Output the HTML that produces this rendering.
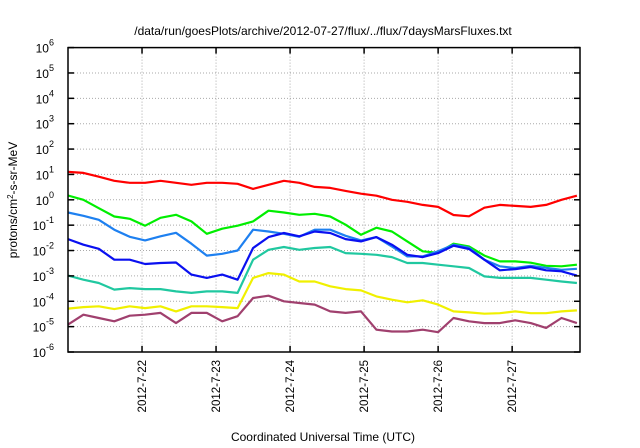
<!DOCTYPE html>
<html><head><meta charset="utf-8"><style>
body{margin:0;background:#fff;}
svg{display:block;font-family:"Liberation Sans",sans-serif;}
</style></head><body>
<svg id="chart" width="640" height="448">
<text x="323" y="35" font-size="12" text-anchor="middle">/data/run/goesPlots/archive/2012-07-27/flux/../flux/7daysMarsFluxes.txt</text>
<text x="323" y="441" font-size="12" text-anchor="middle">Coordinated Universal Time (UTC)</text>
<text transform="translate(17,200) rotate(-90)" font-size="12" text-anchor="middle">protons/cm<tspan dy="-4" font-size="8">2</tspan><tspan dy="4">-s-sr-MeV</tspan></text>
<g id="grid"></g><g id="series"></g><g id="axes"></g>
</svg>
<script>
// data (hours since 2012-07-21 00:00, log10 flux)
const hours = [0,5,10,15,20,25,30,35,40,45,50,55,60,65,70,75,80,85,90,95,100,105,110,115,120,125,130,135,140,145,150,155,160,165];
const dayLabels = ["2012-7-22","2012-7-23","2012-7-24","2012-7-25","2012-7-26","2012-7-27"];
const dayHours = [24,48,72,96,120,144];
const yExponents = [-6,-5,-4,-3,-2,-1,0,1,2,3,4,5,6];
const redLog = [1.10,1.06,0.91,0.75,0.67,0.67,0.75,0.67,0.59,0.67,0.67,0.63,0.43,0.59,0.75,0.67,0.51,0.47,0.35,0.24,0.16,0,-0.08,-0.2,-0.28,-0.6,-0.65,-0.31,-0.2,-0.24,-0.28,-0.2,0,0.16];
const greenLog = [0.17,0.0,-0.33,-0.66,-0.75,-1.02,-0.71,-0.59,-0.85,-1.34,-1.14,-1.02,-0.85,-0.43,-0.5,-0.59,-0.55,-0.66,-0.98,-1.38,-1.1,-1.25,-1.64,-2.03,-2.09,-1.73,-1.84,-2.2,-2.43,-2.43,-2.48,-2.6,-2.62,-2.56];
const lightBlueLog = [-0.5,-0.63,-0.79,-1.18,-1.46,-1.6,-1.44,-1.3,-1.73,-2.2,-2.13,-2.0,-1.18,-1.25,-1.34,-1.46,-1.18,-1.18,-1.42,-1.6,-1.47,-1.84,-2.23,-2.23,-2.03,-1.77,-1.89,-2.36,-2.62,-2.69,-2.6,-2.68,-2.76,-2.72];
const blueLog = [-1.55,-1.77,-1.93,-2.36,-2.36,-2.53,-2.49,-2.47,-2.95,-3.08,-2.95,-3.15,-1.9,-1.47,-1.31,-1.44,-1.25,-1.31,-1.55,-1.64,-1.47,-1.77,-2.17,-2.26,-2.1,-1.81,-1.94,-2.36,-2.78,-2.73,-2.65,-2.78,-2.82,-2.99];
const tealLog = [-2.99,-3.15,-3.28,-3.54,-3.48,-3.52,-3.52,-3.61,-3.67,-3.61,-3.61,-3.67,-2.36,-1.97,-1.86,-1.97,-1.9,-1.86,-2.1,-2.13,-2.17,-2.26,-2.49,-2.49,-2.56,-2.62,-2.69,-3.02,-3.08,-3.08,-3.08,-3.15,-3.22,-3.28];
const yellowLog = [-4.29,-4.23,-4.2,-4.31,-4.2,-4.27,-4.2,-4.4,-4.2,-4.2,-4.23,-4.27,-3.08,-2.89,-2.95,-3.22,-3.22,-3.41,-3.52,-3.57,-3.81,-3.94,-4.04,-3.96,-4.13,-4.4,-4.44,-4.49,-4.47,-4.4,-4.47,-4.47,-4.4,-4.36];
const purpleLog = [-4.92,-4.53,-4.66,-4.79,-4.57,-4.53,-4.46,-4.86,-4.46,-4.46,-4.79,-4.59,-3.87,-3.78,-4.0,-4.07,-4.13,-4.4,-4.46,-4.4,-5.12,-5.19,-5.19,-5.12,-5.22,-4.66,-4.79,-4.86,-4.86,-4.75,-4.86,-5.05,-4.66,-4.86];

const L=68,R=580,T=47.6,B=352, H0=0, H1=166;
const xs = h => L + (h-H0)/(H1-H0)*(R-L);
const ys = e => B - (e+6)/12*(B-T);
const NS="http://www.w3.org/2000/svg";
function mk(tag, attrs, parent){const el=document.createElementNS(NS,tag);for(const k in attrs)el.setAttribute(k,attrs[k]);parent.appendChild(el);return el;}
const grid=document.getElementById('grid'), axes=document.getElementById('axes'), ser=document.getElementById('series');

yExponents.forEach(e=>{
  const y=ys(e);
  if(e>-6&&e<6){const g=mk('line',{x1:L,x2:R,y1:y,y2:y,stroke:'#aaa','stroke-width':1,'stroke-dasharray':'1,2'},grid);
  
  }
  mk('line',{x1:L,x2:L+6,y1:y,y2:y,stroke:'#000','stroke-width':1.5},axes);
  mk('line',{x1:R,x2:R-6,y1:y,y2:y,stroke:'#000','stroke-width':1.5},axes);
  const t=mk('text',{x:54,y:y+5,'font-size':12,'text-anchor':'end'},axes);
  
  
  t.textContent='10';
  const s=mk('tspan',{dy:-7,'font-size':9},t); s.textContent=String(e);
});
dayHours.forEach((h,i)=>{
  const x=xs(h);
  const g=mk('line',{x1:x,x2:x,y1:T,y2:B,stroke:'#aaa','stroke-width':1,'stroke-dasharray':'1,2'},grid);
  
  
  mk('line',{x1:x,x2:x,y1:B,y2:B-6,stroke:'#000','stroke-width':1.5},axes);
  mk('line',{x1:x,x2:x,y1:T,y2:T+6,stroke:'#000','stroke-width':1.5},axes);
  const t=mk('text',{transform:`translate(${x+4},360) rotate(-90)`,'font-size':11.5,'text-anchor':'end'},axes);
  
  
  t.textContent=dayLabels[i];
});
const frame=mk('rect',{x:L,y:T,width:R-L,height:B-T,fill:'none',stroke:'#000','stroke-width':1.5},axes);



const series=[['red-series',redLog,'#ff0000'],['green-series',greenLog,'#00ee00'],['light-blue-series',lightBlueLog,'#1e80f0'],['teal-series',tealLog,'#20c8a0'],['yellow-series',yellowLog,'#f0f000'],['purple-series',purpleLog,'#a0406e'],['blue-series',blueLog,'#0a10f0']];
series.forEach(([name,vals,col])=>{
  const d=vals.map((v,i)=>(i?'L':'M')+xs(hours[i]).toFixed(1)+','+ys(v).toFixed(1)).join(' ');
  const p=mk('path',{d:d,fill:'none',stroke:col,'stroke-width':2.2,'stroke-linejoin':'round'},ser);
  
  
});
</script>
</body></html>
